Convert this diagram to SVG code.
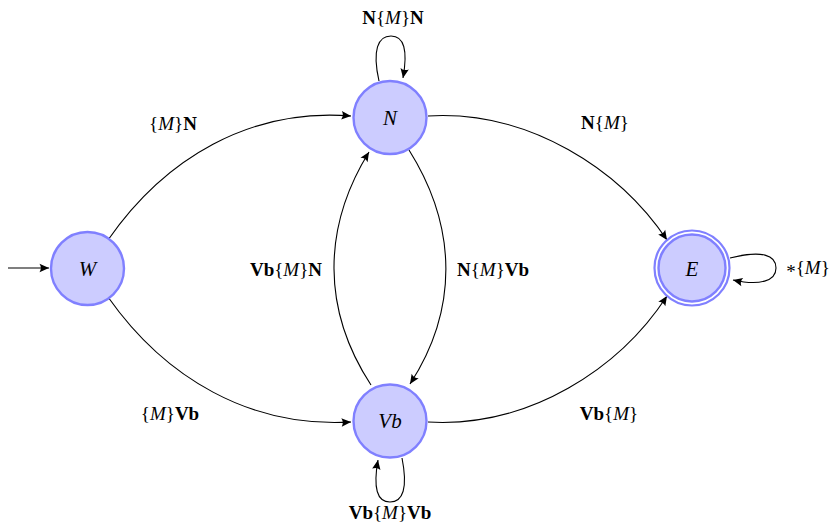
<svg xmlns="http://www.w3.org/2000/svg" width="835" height="531" viewBox="0 0 835 531">
  <style>
    .state { fill: #ccccff; stroke: #8080ff; stroke-width: 2.4; }
    .ring { fill: none; stroke: #8080ff; stroke-width: 2.2; }
    .edge { fill: none; stroke: #000; stroke-width: 1.1; marker-end: url(#tip); }
    .lbl { font-family: "Liberation Serif", "Times New Roman", serif; font-size: 19px; fill: #000; text-anchor: middle; }
    .name { font-size: 21px; font-style: italic; }
    .sym { font-weight: bold; }
    .it { font-style: italic; font-weight: normal; }
  </style>
  <defs>
    <marker id="tip" markerUnits="userSpaceOnUse" markerWidth="12" markerHeight="10" viewBox="-10 -5 12 10" refX="0" refY="0" orient="auto">
      <path d="M0,0 L-9.5,-4.2 Q-6.8,0 -9.5,4.2 Z" fill="#000"/>
    </marker>
  </defs>

  <g id="connectors">
    <!-- initial arrow -->
    <path class="edge" d="M8,268 L49,268"/>
    <!-- W to N, W to Vb -->
    <path class="edge" d="M108,240 C165,158 250,108 351,116"/>
    <path class="edge" d="M108,297 C165,378 250,428 351,422"/>
    <!-- N to E, Vb to E -->
    <path class="edge" d="M428,116 C530,110 620,170 667,240"/>
    <path class="edge" d="M428,422 C530,428 620,368 667,296"/>
    <!-- N to Vb, Vb to N -->
    <path class="edge" d="M409,150 C458,228 458,310 410,384"/>
    <path class="edge" d="M371,385 C322,310 322,228 369,152"/>
    <!-- self loops -->
    <path class="edge" d="M379,81 C372,50 378,36 391,36 C404,36 408,50 403,78"/>
    <path class="edge" d="M402,458 C408,488 403,502 390,502 C377,502 373,488 378,460"/>
    <path class="edge" d="M730,258 C762,250 776,255 776,268 C776,281 760,286 733,280"/>
  </g>

  <g id="W">
    <circle class="state" cx="87.5" cy="268.5" r="36.5"/>
    <text class="lbl name" x="87.5" y="276">W</text>
  </g>
  <g id="N">
    <circle class="state" cx="390" cy="117.5" r="36.5"/>
    <text class="lbl name" x="390" y="125">N</text>
  </g>
  <g id="Vb">
    <circle class="state" cx="390" cy="421" r="36.5"/>
    <text class="lbl name" x="390" y="428">Vb</text>
  </g>
  <g id="E">
    <circle class="ring" cx="692" cy="268" r="37.5"/>
    <circle class="state" cx="692" cy="268" r="33.5"/>
    <text class="lbl name" x="692" y="275.5">E</text>
  </g>

  <g id="labels">
    <text class="lbl" x="173" y="130">{<tspan class="it">M</tspan>}<tspan class="sym">N</tspan></text>
    <text class="lbl" x="170" y="420">{<tspan class="it">M</tspan>}<tspan class="sym">Vb</tspan></text>
    <text class="lbl" x="605" y="129"><tspan class="sym">N</tspan>{<tspan class="it">M</tspan>}</text>
    <text class="lbl" x="609" y="420"><tspan class="sym">Vb</tspan>{<tspan class="it">M</tspan>}</text>
    <text class="lbl" x="286" y="276"><tspan class="sym">Vb</tspan>{<tspan class="it">M</tspan>}<tspan class="sym">N</tspan></text>
    <text class="lbl" x="493" y="276"><tspan class="sym">N</tspan>{<tspan class="it">M</tspan>}<tspan class="sym">Vb</tspan></text>
    <text class="lbl" x="393" y="24"><tspan class="sym">N</tspan>{<tspan class="it">M</tspan>}<tspan class="sym">N</tspan></text>
    <text class="lbl" x="390" y="519"><tspan class="sym">Vb</tspan>{<tspan class="it">M</tspan>}<tspan class="sym">Vb</tspan></text>
    <text class="lbl" x="808" y="274"><tspan dy="4">*</tspan><tspan dy="-4">{</tspan><tspan class="it">M</tspan>}</text>
  </g>
</svg>
